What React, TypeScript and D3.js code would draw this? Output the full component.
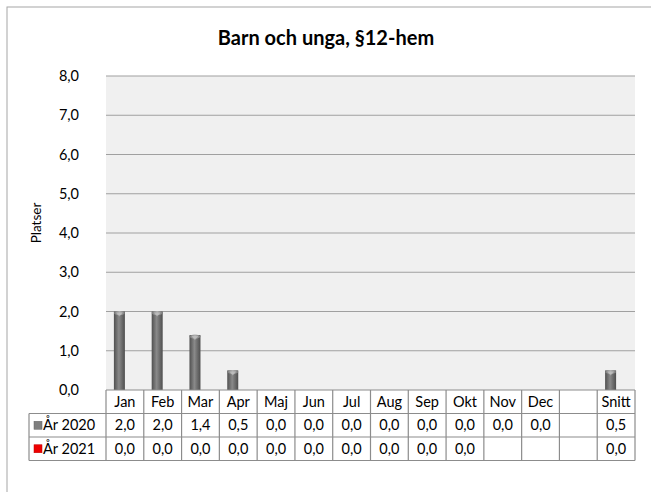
import React from 'react';
import * as d3 from 'd3';

// chart data
const columns = ['Jan', 'Feb', 'Mar', 'Apr', 'Maj', 'Jun', 'Jul', 'Aug', 'Sep', 'Okt', 'Nov', 'Dec', '', 'Snitt'];
const series2020 = [2.0, 2.0, 1.4, 0.5, 0.0, 0.0, 0.0, 0.0, 0.0, 0.0, 0.0, 0.0, null, 0.5];
const series2021 = [0.0, 0.0, 0.0, 0.0, 0.0, 0.0, 0.0, 0.0, 0.0, 0.0, null, null, null, 0.0];
const seriesNames = ['År 2020', 'År 2021'];
const yTicks = [0, 1, 2, 3, 4, 5, 6, 7, 8];

const W = 651, H = 492;
const plot = { left: 106, right: 635, top: 76, bottom: 390 };
const rowH = 23.5;
const font = "Lato, 'Liberation Sans', sans-serif";
const fs = 14.5;
const fmt = (v: number | null) => (v == null ? '' : d3.format('.1f')(v).replace('.', ','));

export default function App() {
  const x = d3.scaleBand<string>()
    .domain(columns.map((c, i) => String(i)))
    .range([plot.left, plot.right]);
  const y = d3.scaleLinear().domain([0, 8]).range([plot.bottom, plot.top]);
  const bw = 11;
  const data = [series2020, series2021];
  const legendLeft = 29;

  return (
    <svg width={W} height={H} style={{ position: 'fixed', left: 0, top: 0, background: '#fff' }} fontFamily={font}>
      <defs>
        <linearGradient id="cyl" x1="0" x2="1" y1="0" y2="0">
          <stop offset="0" stopColor="#505050" />
          <stop offset="0.45" stopColor="#8a8a8a" />
          <stop offset="1" stopColor="#4e4e4e" />
        </linearGradient>
        <linearGradient id="cap" x1="0" x2="1" y1="0" y2="0">
          <stop offset="0" stopColor="#7a7a7a" />
          <stop offset="0.5" stopColor="#b0b0b0" />
          <stop offset="1" stopColor="#7a7a7a" />
        </linearGradient>
      </defs>

      {/* chart frame */}
      <rect x={7} y={7} width={W + 10} height={H + 10} fill="none" stroke="#a6a6a6" strokeWidth={1} />

      <text x={326} y={45} textAnchor="middle" fontSize={20} fontWeight="bold" fill="#000">Barn och unga, §12-hem</text>

      {/* plot area */}
      <rect x={plot.left} y={plot.top} width={plot.right - plot.left} height={plot.bottom - plot.top} fill="#f0f0f0" />
      {yTicks.map(t => (
        <g key={t}>
          {t > 0 && <line x1={plot.left} x2={plot.right} y1={y(t)} y2={y(t)} stroke="#a0a0a0" strokeWidth={1.2} />}
          <text x={79} y={y(t) + 5} textAnchor="end" fontSize={fs} fill="#000">{fmt(t)}</text>
        </g>
      ))}
      <text transform={`translate(41,${(plot.top + plot.bottom) / 2 - 10}) rotate(-90)`} textAnchor="middle" fontSize={13.5} fill="#000">Platser</text>

      {/* bars */}
      {data.map((s, si) => s.map((v, i) => {
        if (v == null || v <= 0) return null;
        const cx = x(String(i))! + x.bandwidth() / 2;
        const x0 = si === 0 ? cx - bw : cx;
        const top = y(v);
        return (
          <g key={`${si}-${i}`}>
            <rect x={x0} y={top} width={bw} height={plot.bottom - top} fill={si === 0 ? 'url(#cyl)' : '#e00000'} />
            <ellipse cx={x0 + bw / 2} cy={top + 1.5} rx={bw / 2} ry={2} fill="url(#cap)" />
            <path d={`M${x0 + 2},${top + 1} L${x0 + bw / 2},${top + 5} L${x0 + bw - 2},${top + 1} Z`} fill="#c8c8c8" opacity={0.6} />
          </g>
        );
      }))}

      {/* data table */}
      <g stroke="#8c8c8c" strokeWidth={1.2} fill="none">
        <line x1={plot.left} x2={plot.right} y1={plot.bottom} y2={plot.bottom} />
        <line x1={legendLeft} x2={plot.right} y1={plot.bottom + rowH} y2={plot.bottom + rowH} />
        <line x1={legendLeft} x2={plot.right} y1={plot.bottom + rowH * 2} y2={plot.bottom + rowH * 2} />
        <line x1={legendLeft} x2={plot.right} y1={plot.bottom + rowH * 3} y2={plot.bottom + rowH * 3} />
        <line x1={legendLeft} x2={legendLeft} y1={plot.bottom + rowH} y2={plot.bottom + rowH * 3} />
        {columns.map((c, i) => (
          <line key={i} x1={x(String(i))!} x2={x(String(i))!} y1={plot.bottom} y2={plot.bottom + rowH * 3} />
        ))}
        <line x1={plot.right} x2={plot.right} y1={plot.bottom} y2={plot.bottom + rowH * 3} />
      </g>
      {columns.map((c, i) => (
        <text key={c + i} x={x(String(i))! + x.bandwidth() / 2} y={plot.bottom + rowH / 2 + 5} textAnchor="middle" fontSize={fs} fill="#000">{c}</text>
      ))}
      {data.map((s, si) => (
        <g key={si}>
          <rect x={legendLeft + 5} y={plot.bottom + rowH * (si + 1.5) - 4} width={8} height={8}
            fill={si === 0 ? '#7f7f7f' : '#ee0000'} stroke={si === 0 ? '#666' : '#c00000'} strokeWidth={0.5} />
          <text x={legendLeft + 14} y={plot.bottom + rowH * (si + 1.5) + 5} fontSize={fs} fill="#000">{seriesNames[si]}</text>
          {s.map((v, i) => (
            <text key={i} x={x(String(i))! + x.bandwidth() / 2} y={plot.bottom + rowH * (si + 1.5) + 5} textAnchor="middle" fontSize={fs} fill="#000">{fmt(v)}</text>
          ))}
        </g>
      ))}
    </svg>
  );
}
